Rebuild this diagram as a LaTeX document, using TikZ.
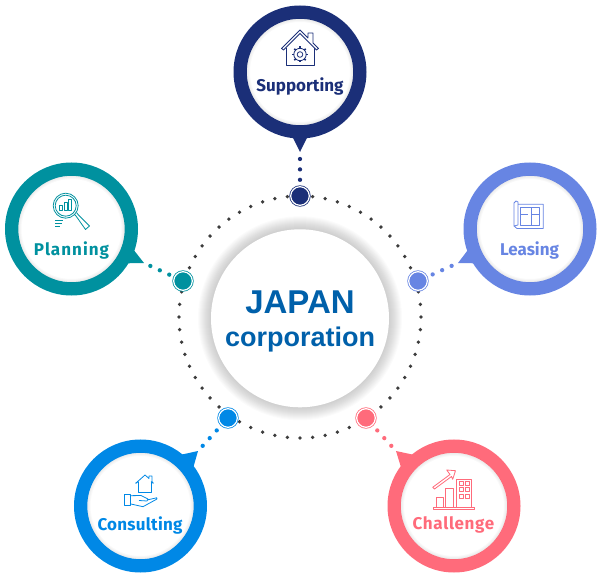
\documentclass[tikz,border=0pt]{standalone}
\usepackage{fontspec}
\setmainfont{Fira Sans}
\newfontfamily\titlefont{Liberation Sans}
\usetikzlibrary{
    calc,
    positioning
}
\definecolor{navy_c}{HTML}{1B2F78}
\definecolor{teal_c}{HTML}{00919F}
\definecolor{peri_c}{HTML}{6785E3}
\definecolor{blue_c}{HTML}{0088E6}
\definecolor{coral_c}{HTML}{FF6B7B}
\definecolor{title_c}{HTML}{0060AA}
\definecolor{dot_c}{HTML}{3C3C3C}

\begin{document}
\begin{tikzpicture}[
            x=1pt, y=-1pt,
            bubble/.style={circle, draw, fill=white, line width=13.3pt, minimum size=119.7pt, inner sep=0pt},
            hub/.style={circle, draw, line width=0.8pt, double=white, double distance=1.2pt, minimum size=18.6pt, inner sep=0pt},
            link/.style={line width=4.3pt, line cap=round, dash pattern=on 0pt off 10.4pt, dash phase=3.4pt},
            center_disc/.style={circle, fill=white, minimum size=178pt, inner sep=0pt},
            ring_dot/.style={circle, fill=dot_c, minimum size=3.8pt, inner sep=0pt},
            label/.style={font=\bfseries\fontsize{17}{18}\selectfont, inner sep=0pt},
            icon/.style={line width=0.8pt, line join=round}
        ]
        \path[use as bounding box] (0,0) rectangle (600,577);

        % dotted ring
        \coordinate (ring_center) at (300,317);
        \foreach \a in {0,6,...,354}
            \node[ring_dot] (ring_dot_\a) at ($(ring_center)+(\a:121pt)$) {};

        % centre disc with its shadow
        \coordinate (disc_center) at (300,318.3);
        \foreach \r in {90,91,...,102}
            \fill[black, opacity=0.017] (disc_center) circle (\r pt);
        \node[center_disc] (main_disc) at (disc_center) {};
        \node[font=\titlefont\bfseries\fontsize{33}{33}\selectfont, text=title_c, inner sep=0pt, anchor=base] (title_japan) at (300,313.3) {JAPAN};
        \node[font=\titlefont\bfseries\fontsize{27}{27}\selectfont, text=title_c, inner sep=0pt, anchor=base] (title_corp) at (300,346.7) {corporation};

        % bubbles
        \node[bubble, draw=navy_c] (supporting_bubble) at (300,72) {};
        \node[bubble, draw=teal_c] (planning_bubble) at (71.5,229) {};
        \node[bubble, draw=peri_c] (leasing_bubble) at (530,229) {};
        \node[bubble, draw=blue_c] (consulting_bubble) at (140.5,506) {};
        \node[bubble, draw=coral_c] (challenge_bubble) at (454,506) {};

        \foreach \bub in {supporting_bubble,planning_bubble,leasing_bubble,consulting_bubble,challenge_bubble}
            \foreach \r in {50,51,52}
                \fill[black, opacity=0.025, even odd rule] (\bub) circle (53.2pt) circle (\r pt);

        % tails
        \coordinate (supporting_tip) at (300,152);
        \coordinate (planning_tip) at (144,263);
        \coordinate (leasing_tip) at (458,263);
        \coordinate (consulting_tip) at (198,451);
        \coordinate (challenge_tip) at (396,451);
        \fill[navy_c] ($(supporting_bubble.center)+(-100:60pt)$) -- (supporting_tip) -- ($(supporting_bubble.center)+(-80:60pt)$) -- cycle;
        \fill[teal_c] ($(planning_bubble.center)+(-35:60pt)$) -- (planning_tip) -- ($(planning_bubble.center)+(-15:60pt)$) -- cycle;
        \fill[peri_c] ($(leasing_bubble.center)+(-145:60pt)$) -- (leasing_tip) -- ($(leasing_bubble.center)+(-165:60pt)$) -- cycle;
        \fill[blue_c] ($(consulting_bubble.center)+(32:60pt)$) -- (consulting_tip) -- ($(consulting_bubble.center)+(56:60pt)$) -- cycle;
        \fill[coral_c] ($(challenge_bubble.center)+(148:60pt)$) -- (challenge_tip) -- ($(challenge_bubble.center)+(124:60pt)$) -- cycle;

        % hubs on the ring
        \node[hub, draw=navy_c, fill=navy_c] (supporting_hub) at (300,196) {};
        \node[hub, draw=teal_c, fill=teal_c] (planning_hub) at (183,281) {};
        \node[hub, draw=peri_c, fill=peri_c] (leasing_hub) at (418,281) {};
        \node[hub, draw=blue_c, fill=blue_c] (consulting_hub) at (228,418) {};
        \node[hub, draw=coral_c, fill=coral_c] (challenge_hub) at (366,418) {};

        \draw[link, navy_c] (supporting_tip) -- (supporting_hub);
        \draw[link, teal_c] (planning_tip) -- (planning_hub);
        \draw[link, peri_c] (leasing_tip) -- (leasing_hub);
        \draw[link, blue_c] (consulting_tip) -- (consulting_hub);
        \draw[link, coral_c] (challenge_tip) -- (challenge_hub);

        % labels
        \node[label, text=navy_c] (supporting_label) at (300,86) {Supporting};
        \node[label, text=teal_c] (planning_label) at (71.5,250) {\addfontfeature{LetterSpace=6}Planning};
        \node[label, text=peri_c] (leasing_label) at (529.5,250) {Leasing};
        \node[label, text=blue_c] (consulting_label) at (140,525) {\addfontfeature{LetterSpace=1.5}Consulting};
        \node[label, text=coral_c] (challenge_label) at (453.5,525) {\addfontfeature{LetterSpace=4}Challenge};

        % icon: house with gear
        \draw[icon, navy_c] (281.5,48.5) -- (300,30) -- (308,38) -- (308,33) -- (313,33) -- (313,43) -- (318.5,48.5) -- (316.5,50) -- (300,33.5) -- (283.5,50) -- cycle;
        \draw[icon, navy_c] (286,48) -- (286,65.7) -- (314,65.7) -- (314,48);
        \draw[icon, navy_c] (300,54.5) circle (6.2pt) (300,54.5) circle (2.8pt);
        \foreach \a in {0,45,...,315}
            \draw[navy_c, line width=1.7pt] ($(300,54.5)+(\a:6pt)$) -- ($(300,54.5)+(\a:8pt)$);

        % icon: magnifier with bars
        \draw[icon, teal_c] (65.7,205.7) circle (12.5pt) (65.7,205.7) circle (10.5pt);
        \draw[icon, teal_c] (74.5,214.5) -- (76,216) -- (85.5,229.5) -- (89.5,226) -- (78,214.5) -- (76.5,212.5);
        \draw[icon, teal_c] (59.5,210) rectangle (62.5,205.5) (64.2,210) rectangle (67.2,202) (68.7,210) rectangle (71.7,199);
        \draw[icon, teal_c] (55,220.7) -- (63,220.7) (55,223.3) -- (62,223.3) (55,226) -- (60,226);

        % icon: blueprint
        \draw[icon, peri_c] (518,204.3) -- (543.3,204.3) -- (543.3,228.5) -- (517,228.5) -- (514,226) -- (514,203) -- (516,201) -- (518,202) -- (518,225) -- (514,226);
        \draw[icon, peri_c] (520.7,207.7) rectangle (539.3,225) (531.7,207.7) -- (531.7,225) (520.7,214.3) -- (528,214.3) (531.7,214.3) -- (539.3,214.3);

        % icon: hand holding house
        \draw[icon, blue_c] (135.7,483.3) -- (145,475) -- (149,478.5) -- (149,476) -- (152,476) -- (152,481.5) -- (153.3,483.3);
        \draw[icon, blue_c] (138.3,481.5) -- (138.3,492.7) -- (151,492.7) -- (151,481.5);
        \draw[icon, blue_c] (135.7,483.3) -- (138.3,481.5) (153.3,483.3) -- (151,481.5);
        \draw[icon, blue_c] (124,494) rectangle (130,505);
        \draw[icon, blue_c] (130,495.7) -- (141,495.5) -- (148,499) -- (147,501) -- (139,500.5) (147,500) -- (156.7,497.8) -- (157,499) -- (143,506.7) -- (130,503.8);

        % icon: bars and building with arrow
        \draw[icon, coral_c] (433.3,507.3) rectangle (474,509.3);
        \draw[icon, coral_c] (436.7,507.3) -- (436.7,497.3) -- (443.3,497.3) -- (443.3,507.3) (445,507.3) -- (445,488.3) -- (453.3,488.3) -- (453.3,507.3);
        \draw[icon, coral_c] (456.7,507.3) -- (456.7,479) -- (471.7,479) -- (471.7,507.3);
        \foreach \wy in {481.7,487.7,494}{
            \draw[icon, coral_c] (459.3,\wy) rectangle +(4,4);
            \draw[icon, coral_c] (465,\wy) rectangle +(4,4);
        }
        \draw[icon, coral_c] (432.7,487.3) -- (450,474.5) -- (446.7,470) -- (455.5,470.7) -- (452.7,479.3) -- (451.5,476.5) -- (434.5,489) -- cycle;

\end{tikzpicture}
\end{document}
